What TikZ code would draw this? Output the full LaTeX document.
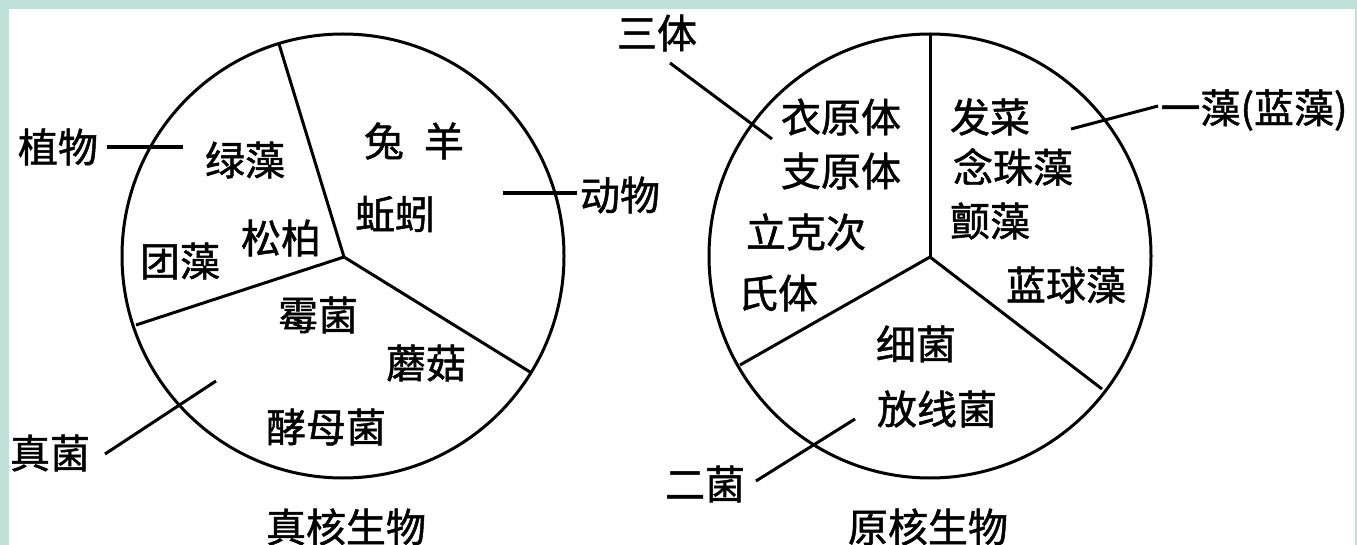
\documentclass[tikz,border=0pt]{standalone}
\usepackage{fontspec}
\newfontfamily\cjk[FakeBold=1.2]{Noto Sans CJK SC}
\definecolor{frame}{HTML}{BFE2D8}
\begin{document}
\begin{tikzpicture}[x=1pt,y=-1pt,
  lbl/.style={font=\cjk\fontsize{40}{44}\selectfont, inner sep=0pt, anchor=center},
  wall/.style={line width=3pt, black},
  lead/.style={line width=3pt, black}]
\useasboundingbox (0,0) rectangle (1357,545);
\fill[frame] (0,0) rectangle (1357,545);
\fill[white] (8.5,9.5) rectangle (1355,545);
% ---- left pie ----
\coordinate (lc) at (344,257);
\draw[wall] (343,256) ellipse [x radius=221, y radius=222];
\coordinate (lt) at (279,44);
\coordinate (ll) at (136,325);
\coordinate (lr) at (530,372);
\draw[wall] (lc) -- (lt);
\draw[wall] (lc) -- (ll);
\draw[wall] (lc) -- (lr);
\node[lbl] (lvl1) at (245,160) {绿藻};
\node[lbl] (tuyang) at (414,141) {兔\hspace{0.5em}羊};
\node[lbl] (qiuyin) at (395,214) {蚯蚓};
\node[lbl] (tuanzao) at (180,261) {团藻};
\node[lbl] (songbai) at (281,238) {松柏};
\node[lbl] (meijun) at (318,315) {霉菌};
\node[lbl] (mogu) at (426,363) {蘑菇};
\node[lbl] (jiaomu) at (326,427) {酵母菌};
\node[lbl] (zhiwu) at (58,147) {植物};
\node[lbl] (dongwu) at (620,195) {动物};
\node[lbl] (zhenjun) at (50,453) {真菌};
\node[lbl] (zhenhe) at (346,527) {真核生物};
\coordinate (zwEnd) at (183,147);
\coordinate (dwEnd) at (503,193);
\coordinate (zjEnd) at (216,381);
\draw[lead, line width=3.5pt] (zhiwu.east) ++(9,0) -- (zwEnd);
\draw[lead, line width=3.5pt] (dongwu.west) ++(-3,-2) -- (dwEnd);
\draw[lead] (105,454) -- (zjEnd);
% ---- right pie ----
\coordinate (rc) at (930,257);
\draw[wall] (930,256) ellipse [x radius=221, y radius=222];
\coordinate (rt) at (930,35);
\coordinate (rl) at (740,365);
\coordinate (rr) at (1102,389);
\draw[wall] (rc) -- (rt);
\draw[wall] (rc) -- (rl);
\draw[wall] (rc) -- (rr);
\node[lbl] (yiyuan) at (841,117) {衣原体};
\node[lbl] (zhiyuan) at (841,171) {支原体};
\node[lbl] (like) at (806,232) {立克次};
\node[lbl] (shiti) at (778,293) {氏体};
\node[lbl] (facai) at (990,117) {发菜};
\node[lbl] (nianzhu) at (1013,167) {念珠藻};
\node[lbl] (chanzao) at (990,221) {颤藻};
\node[lbl] (lanqiu) at (1066,285) {蓝球藻};
\node[lbl] (xijun) at (916,344) {细菌};
\node[lbl] (fangxian) at (937,409) {放线菌};
\node[lbl] (santi) at (657,33) {三体};
\node[lbl] (erjun) at (705,484) {二菌};
\node[lbl] (yizao) at (1254,110) {一藻(蓝藻)};
\node[lbl] (yuanhe) at (928,527) {原核生物};
\coordinate (stEnd) at (772,139);
\coordinate (ejEnd) at (855,419);
\coordinate (yzEnd) at (1071,129);
\draw[lead] (670,63) -- (stEnd);
\draw[lead] (756,481) -- (ejEnd);
\draw[lead] (1158,106) -- (yzEnd);
\end{tikzpicture}
\end{document}
